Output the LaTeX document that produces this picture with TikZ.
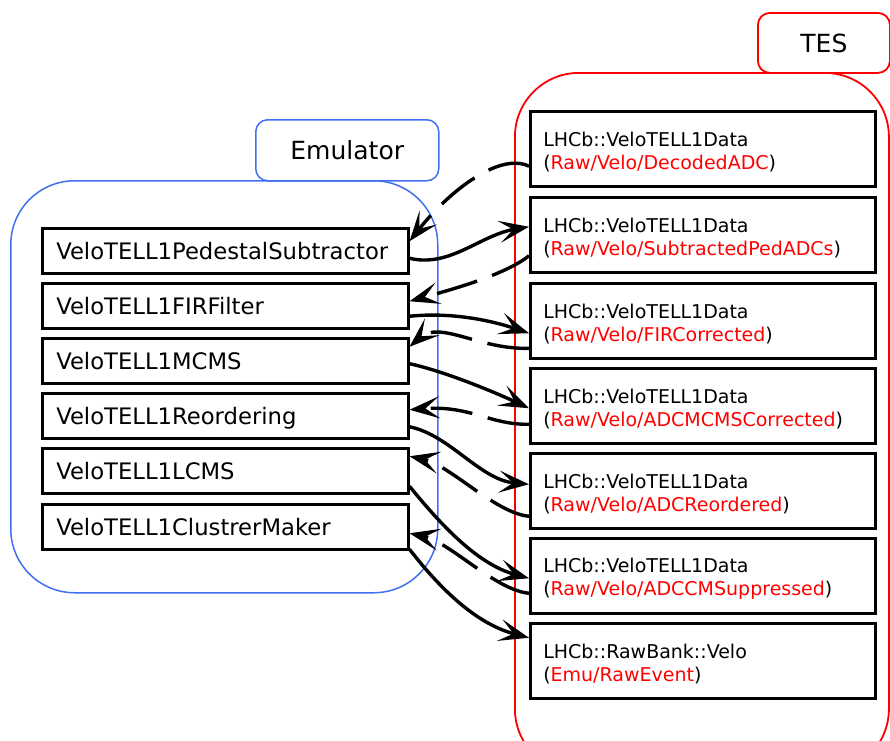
\documentclass[tikz,border=0pt]{standalone}
\usepackage{fontspec}
\setmainfont{DejaVu Sans}
\usetikzlibrary{arrows.meta}
\definecolor{emublue}{RGB}{64,112,240}
\definecolor{tesred}{RGB}{255,0,0}
% a TES entry: object type on the first line, location in red below
\newcommand\tesitem[2]{\rule{0pt}{20pt}#1\\(\textcolor{tesred}{#2})}
\begin{document}
\begin{tikzpicture}[x=1pt,y=-1pt,
  lbox/.style={draw, line width=2.5pt, minimum width=366pt, minimum height=45pt,
    text width=338pt, inner xsep=14pt, inner ysep=0pt, align=left,
    text height=17pt, text depth=0pt, font=\fontsize{22.7}{27}\selectfont,
    anchor=north west},
  rbox/.style={draw, line width=2.5pt, minimum width=345pt, minimum height=75pt,
    text width=319pt, inner xsep=13pt, inner ysep=0pt, align=left,
    font=\fontsize{19}{23}\selectfont, anchor=north west},
  group/.style={line width=1.5pt, rounded corners=64pt, anchor=north west},
  tab/.style={fill=white, line width=1.5pt, rounded corners=12pt,
    anchor=north west, font=\fontsize{25}{30}\selectfont},
  flow/.style={line width=3.4pt, -{Stealth[length=30pt,width=22pt,inset=14pt]}},
  back/.style={flow, dash pattern=on 42pt off 16pt},
]
\useasboundingbox (0,0) rectangle (890,740);
\clip (0,0) rectangle (890,740);

% containers
\node[group, draw=emublue, minimum width=427pt, minimum height=412pt] (emu) at (10,180) {};
\node[tab, draw=emublue, minimum width=183pt, minimum height=61pt] (emutab) at (255,119) {Emulator};
\node[group, draw=tesred, line width=1.8pt, minimum width=374pt, minimum height=700pt] (tes) at (514,72) {};
\node[tab, draw=tesred, line width=1.8pt, minimum width=132pt, minimum height=60pt] (testab) at (757,12) {TES};

% emulator algorithms
\node[lbox] (L1) at (41,227) {VeloTELL1PedestalSubtractor};
\node[lbox] (L2) at (41,282) {VeloTELL1FIRFilter};
\node[lbox] (L3) at (41,337) {VeloTELL1MCMS};
\node[lbox] (L4) at (41,392) {VeloTELL1Reordering};
\node[lbox] (L5) at (41,447) {VeloTELL1LCMS};
\node[lbox] (L6) at (41,503) {VeloTELL1ClustrerMaker};

% TES containers
\node[rbox] (R1) at (529,110) {\tesitem{LHCb::VeloTELL1Data}{Raw/Velo/DecodedADC}};
\node[rbox] (R2) at (529,196) {\tesitem{LHCb::VeloTELL1Data}{Raw/Velo/SubtractedPedADCs}};
\node[rbox] (R3) at (529,282) {\tesitem{LHCb::VeloTELL1Data}{Raw/Velo/FIRCorrected}};
\node[rbox] (R4) at (529,367) {\tesitem{LHCb::VeloTELL1Data}{Raw/Velo/ADCMCMSCorrected}};
\node[rbox] (R5) at (529,452) {\tesitem{LHCb::VeloTELL1Data}{Raw/Velo/ADCReordered}};
\node[rbox] (R6) at (529,537) {\tesitem{LHCb::VeloTELL1Data}{Raw/Velo/ADCCMSuppressed}};
\node[rbox] (R7) at (529,622) {\tesitem{LHCb::RawBank::Velo}{Emu/RawEvent}};

% reads from the TES
\draw[back] ([yshift=-17.5pt]R1.west) .. controls (500,152) and (450,190) .. ([yshift=9.5pt]L1.east);
\draw[back] ([yshift=-21pt]R2.west) .. controls (505,275) and (450,290) .. ([yshift=4.5pt]L2.east);
\draw[back] ([yshift=-27.5pt]R3.west) .. controls (480,350) and (440,320) .. ([yshift=14pt]L3.east);
\draw[back] ([yshift=-18.5pt]R4.west) .. controls (490,425) and (470,405) .. ([yshift=6pt]L4.east);
\draw[back] ([yshift=-25.5pt]R5.west) .. controls (495,513) and (450,465) .. ([yshift=14.5pt]L5.east);
\draw[back] ([yshift=-17.5pt]R6.west) .. controls (495,590) and (450,542) .. ([yshift=-6.5pt]L6.east);

% writes to the TES
\draw[flow] ([yshift=-7.5pt]L1.east) .. controls (450,268) and (480,235) .. ([yshift=8pt]R2.west);
\draw[flow] ([yshift=-10.5pt]L2.east) .. controls (450,312) and (490,320) .. ([yshift=-12.5pt]R3.west);
\draw[flow] ([yshift=-3pt]L3.east) .. controls (440,370) and (490,390) .. ([yshift=-2.5pt]R4.west);
\draw[flow] ([yshift=-11pt]L4.east) .. controls (450,435) and (480,480) .. ([yshift=6.5pt]R5.west);
\draw[flow] ([yshift=-15.5pt]L5.east) .. controls (445,530) and (480,565) .. ([yshift=-2.5pt]R6.west);
\draw[flow] ([yshift=-22.5pt]L6.east) .. controls (445,595) and (480,625) .. ([yshift=23pt]R7.west);
\end{tikzpicture}
\end{document}
